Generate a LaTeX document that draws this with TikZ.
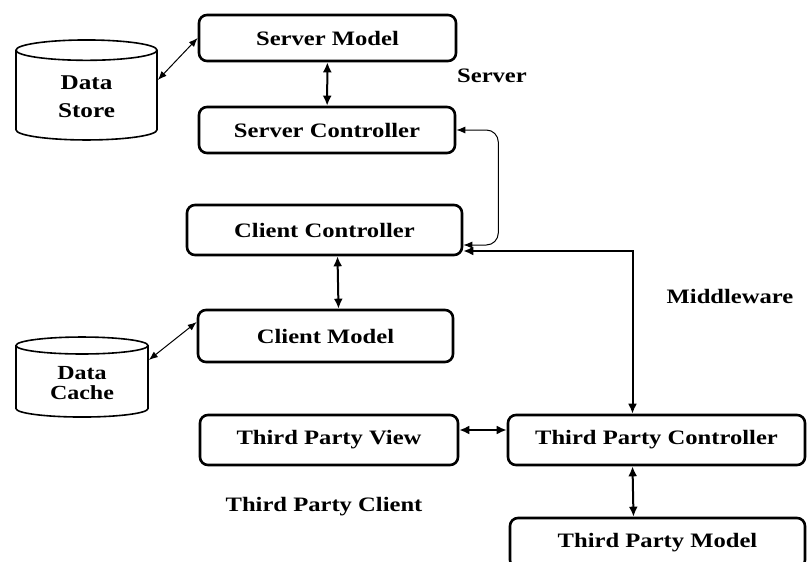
\documentclass[tikz,border=0pt]{standalone}
\usepackage{fontspec}
\setmainfont{Liberation Serif}[FakeStretch=1.2]
\usetikzlibrary{shapes.geometric,arrows.meta}

\begin{document}
\begin{tikzpicture}
[
    x=1pt, y=-1pt,
    box/.style={draw, line width=2.6pt, rounded corners=8pt, font=\fontsize{20.5}{24}\selectfont\bfseries},
    store/.style={cylinder, shape border rotate=90, draw, line width=1.6pt, align=center, font=\bfseries},
    link/.style={{Latex[length=10pt,width=9pt]}-{Latex[length=10pt,width=9pt]}, line width=2pt},
    thinlink/.style={{Latex[length=9pt,width=7pt]}-{Latex[length=9pt,width=7pt]}, line width=1pt},
    label/.style={font=\fontsize{20.5}{24}\selectfont\bfseries},
]
\useasboundingbox (0,0) rectangle (807,562);
\clip (0,0) rectangle (807,562);

\node [box, minimum width=257pt, minimum height=46pt] (servermodel) at (327.5,38) {Server Model};
\node [box, minimum width=256pt, minimum height=46pt] (serverctrl) at (327,130) {Server Controller};
\node [box, minimum width=275pt, minimum height=50pt] (clientctrl) at (324.5,230) {Client Controller};
\node [box, minimum width=255pt, minimum height=52pt] (clientmodel) at (325.5,336) {Client Model};
\node [box, minimum width=258pt, minimum height=50pt] (tpview) at (329,440) {Third Party View};
\node [box, minimum width=297pt, minimum height=50pt] (tpctrl) at (656.5,440) {Third Party Controller};
\node [box, minimum width=295pt, minimum height=50pt] (tpmodel) at (657.5,543) {Third Party Model};

\node [store, aspect=0.32, minimum width=141pt, minimum height=100pt, font=\fontsize{21}{28}\selectfont\bfseries] (datastore) at (86.5,97) {Data\\Store};
\node [store, aspect=0.24, minimum width=132pt, minimum height=80pt, font=\fontsize{20}{20}\selectfont\bfseries] (datacache) at (82,383) {Data\\Cache};

\node [label] (serverlabel) at (492,76) {Server};
\node [label] (middlelabel) at (730,296) {Middleware};
\node [label] (clientlabel) at (324,507) {Third Party Client};

\draw [thinlink] ([yshift=17pt]datastore.east) -- (servermodel.west);
\draw [link] (servermodel) -- (serverctrl);
\draw [thinlink, rounded corners=12pt] ([yshift=-15pt]clientctrl.east) -- ++(35,0) |- (serverctrl.east);
\draw [link] ([yshift=-21pt]clientctrl.east) -| ([xshift=-24pt]tpctrl.north);
\draw [link] ([xshift=13pt]clientctrl.south) -- ([xshift=13pt]clientmodel.north);
\draw [thinlink] ([yshift=23pt]datacache.east) -- ([yshift=14pt]clientmodel.west);
\draw [link] ([yshift=10pt]tpview.east) -- ([yshift=10pt]tpctrl.west);
\draw [link] ([xshift=-24pt]tpctrl.south) -- ([xshift=-24pt]tpmodel.north);
\end{tikzpicture}
\end{document}
